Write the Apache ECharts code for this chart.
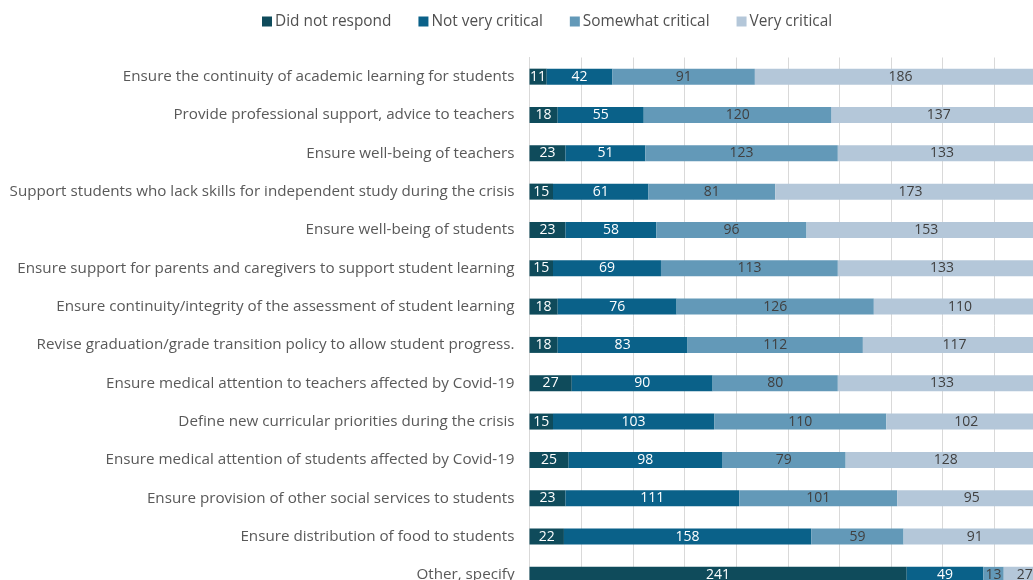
<!DOCTYPE html>
<html>
<head>
<meta charset="utf-8">
<script src="https://cdn.jsdelivr.net/npm/echarts@6/dist/echarts.min.js"></script>
<style>html,body{margin:0;padding:0;background:#fff;overflow:hidden;width:1033px;height:580px}#c{width:1046px;height:594px}</style>
</head>
<body>
<div id="c"></div>
<script>
const categories = [
  "Ensure the continuity of academic learning for students",
  "Provide professional support, advice to teachers",
  "Ensure well-being of teachers",
  "Support students who lack skills for independent study during the crisis",
  "Ensure well-being of students",
  "Ensure support for parents and caregivers to support student learning",
  "Ensure continuity/integrity of the assessment of student learning",
  "Revise graduation/grade transition policy to allow student progress.",
  "Ensure medical attention to teachers affected by Covid-19",
  "Define new curricular priorities during the crisis",
  "Ensure medical attention of students affected by Covid-19",
  "Ensure provision of other social services to students",
  "Ensure distribution of food to students",
  "Other, specify"
];
const seriesNames = ["Did not respond", "Not very critical", "Somewhat critical", "Very critical"];
const didNotRespond   = [11, 18, 23, 15, 23, 15, 18, 18, 27, 15, 25, 23, 22, 241];
const notVeryCritical = [42, 55, 51, 61, 58, 69, 76, 83, 90, 103, 98, 111, 158, 49];
const somewhatCritical= [91, 120, 123, 81, 96, 113, 126, 112, 80, 110, 79, 101, 59, 13];
const veryCritical    = [186, 137, 133, 173, 153, 133, 110, 117, 133, 102, 128, 95, 91, 27];
const axisMax = 330;
const axisInterval = 33;

const colors = ["#0f4b5b", "#0a6189", "#6399b8", "#b4c7d9"];
const labelColors = ["#ffffff", "#ffffff", "#404040", "#404040"];
const values = [didNotRespond, notVeryCritical, somewhatCritical, veryCritical];
const FONT = "Open Sans";

const chart = echarts.init(document.getElementById('c'));
chart.setOption({
  animation: false,
  textStyle: { fontFamily: FONT },
  legend: {
    top: 14, left: 262, padding: 0,
    itemWidth: 10, itemHeight: 10, itemGap: 27,
    icon: 'rect',
    textStyle: { fontFamily: FONT, fontSize: 15.4, color: '#505050', padding: [0,0,0,-2] },
    data: seriesNames
  },
  grid: { left: 529.5, right: 0, top: 57.5, bottom: 0, containLabel: false },
  xAxis: {
    type: 'value', min: 0, max: axisMax, interval: axisInterval,
    axisLabel: { show: false }, axisLine: { show: false }, axisTick: { show: false },
    splitLine: { lineStyle: { color: '#d9d9d9', width: 1 } }
  },
  yAxis: {
    type: 'category', inverse: true, data: categories,
    axisLine: { show: true, lineStyle: { color: '#d9d9d9' } },
    axisTick: { show: false },
    axisLabel: { fontFamily: FONT, fontSize: 15.2, color: '#595959', margin: 15 }
  },
  series: seriesNames.map((n, i) => ({
    name: n, type: 'bar', stack: 'all', barWidth: 16,
    data: values[i],
    itemStyle: { color: colors[i] },
    label: { show: true, position: 'inside', color: labelColors[i], fontFamily: FONT, fontSize: 14 }
  }))
});
</script>
</body>
</html>
